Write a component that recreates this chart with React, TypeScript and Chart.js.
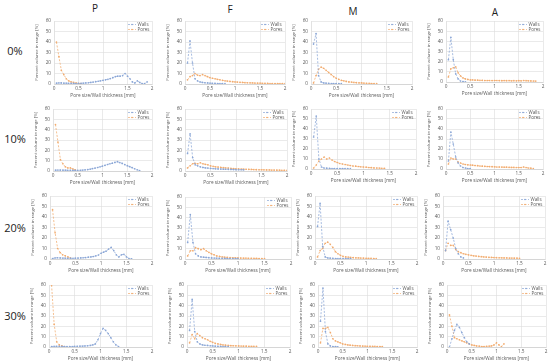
import React, { useEffect, useRef } from "react";
import { Chart, registerables } from "chart.js";
Chart.register(...registerables);

const X = [0.05, 0.1, 0.15, 0.2, 0.25, 0.3, 0.35, 0.4, 0.45, 0.5, 0.55, 0.6, 0.65, 0.7, 0.75, 0.8, 0.85, 0.9, 0.95, 1.0, 1.05, 1.1, 1.15, 1.2, 1.25, 1.3, 1.35, 1.4, 1.45, 1.5, 1.55, 1.6, 1.65, 1.7, 1.75, 1.8, 1.85, 1.9, 1.95, 2.0];

const COLS = ["P", "F", "M", "A"];
const ROWS = ["0%", "10%", "20%", "30%"];
const SERIES = ["Walls", "Pores"];
const X_TITLE = "Pore size/Wall thickness [mm]";
const Y_TITLE = "Percent volume in range [%]";

// Row 0%
const P0_WALLS = [0.8, 1, 1, 0.8, 0.8, 0.7, 0.6, 0.6, 0.5, 0.6, 0.7, 0.8, 1, 1.2, 1.5, 1.8, 2.2, 2.6, 3, 3.5, 4, 4.5, 5.2, 6, 7, 7.5, 7.5, 8, 10, 7.5, 5, 2, 1, 3, 1.5, 0.3, 0.5, 2];
const P0_PORES = [40, 26, 13, 9, 5, 3, 2, 1.5, 1, 0.5, 0.3];
const F0_WALLS = [20, 41, 20, 5, 3, 2, 1.5, 1.2, 1, 0.8, 0.7, 0.6, 0.5, 0.5, 0.4, 0.3];
const F0_PORES = [4, 7, 8, 10, 8.5, 8, 9, 8, 7, 6, 5.5, 5, 4.5, 4, 3.5, 3, 2.8, 2.5, 2.2, 2, 1.8, 1.6, 1.5, 1.3, 1.2, 1.1, 1, 0.9, 0.8, 0.8, 0.7, 0.6, 0.6, 0.5, 0.5, 0.4, 0.4, 0.4, 0.3, 0.3];
const M0_WALLS = [38, 48, 8, 2, 1, 0.8, 0.6, 0.5, 0.5, 0.4, 0.3, 0.3];
const M0_PORES = [1, 8, 14, 16, 15, 13, 11, 9, 7, 5.5, 4.5, 3.5, 3, 2.5, 2, 1.8, 1.5, 1.3, 1.1, 1, 0.8, 0.7, 0.6, 0.5, 0.5, 0.4];
const A0_WALLS = [22, 44, 22, 8, 3, 1, 0.5, 0.2];
const A0_PORES = [5, 13, 14, 15, 9, 6, 4, 3, 2.5, 2, 2, 1.8, 1.8, 1.6, 1.6, 1.5, 1.5, 1.5, 1.4, 1.5, 1.5, 1.4, 1.3, 1.4, 1.3, 1.4, 1.2, 1.3, 1.2, 1.3, 1.2, 1.5, 1.3, 1.2, 1.1, 1, 0.9];

// Row 10%
const P10_WALLS = [0.8, 0.9, 0.9, 0.8, 0.8, 0.7, 0.7, 0.6, 0.6, 0.6, 0.7, 0.9, 1.1, 1.4, 1.8, 2.3, 2.8, 3.4, 4, 4.8, 5.5, 6.3, 7, 7.6, 8.3, 9, 8.2, 7.3, 6.2, 5.2, 4.2, 3.2, 2.2, 1.2, 0.4];
const P10_PORES = [45, 28, 11, 7, 4, 3, 3, 2, 1];
const F10_WALLS = [17, 36, 13, 6, 5, 4, 3.5, 3, 2.8, 2.5, 2.3, 2.1, 2, 1.9, 1.8, 1.7, 1.6, 1.5, 1.4, 1.3, 1.2, 1.2, 1.1];
const F10_PORES = [3, 5, 7, 7.5, 7, 8, 7, 6.5, 6, 5, 4.5, 4, 3.8, 3.5, 3.2, 3, 2.8, 2.5, 2.3, 2.1, 2, 1.9, 1.8, 1.7, 1.6, 1.5, 1.4, 1.3, 1.2, 1.2, 1.1, 1, 1, 0.9, 0.9, 0.8, 0.8, 0.7, 0.7, 0.6];
const M10_WALLS = [32, 53, 10, 2, 1, 0.8, 0.6, 0.5, 0.5, 0.4, 0.4, 0.3, 0.3, 0.3, 0.3];
const M10_PORES = [1, 4, 8, 10, 12, 10, 11, 9, 7.5, 6.5, 5.5, 5, 4.5, 4, 3.5, 3, 2.8, 2.5, 2.2, 2, 1.8, 1.5, 1.3, 1.1, 1, 0.9, 0.7, 0.6];
const A10_WALLS = [8, 37, 25, 12, 6, 3, 1.5, 1, 0.5, 0.3];
const A10_PORES = [5, 11, 10, 10, 7, 6, 5, 4.5, 4.2, 4, 3.8, 3.5, 3.3, 3, 2.8, 2.7, 2.5, 2.4, 2.3, 2.2, 2, 2, 1.9, 1.8, 1.8, 1.7, 1.6, 1.6, 1.5, 1.5, 1.5, 2, 1.5, 1, 0.8, 0.5];

// Row 20%
const P20_WALLS = [0.5, 1, 1.2, 1, 0.9, 0.8, 0.7, 0.7, 0.7, 0.8, 0.9, 1, 1.2, 1.4, 1.7, 2, 2.4, 3, 3.8, 5.5, 6.5, 7.5, 9.5, 11, 8, 4, 2, 4, 4.5, 2, 0.5, 0.2];
const P20_PORES = [47, 25, 10, 6, 4, 3, 2, 1];
const F20_WALLS = [16, 43, 16, 5, 3, 2, 1.8, 1.5, 1.3, 1, 0.9, 0.8, 0.7, 0.6, 0.6, 0.5, 0.5, 0.4, 0.4, 0.3];
const F20_PORES = [3, 8, 8, 11, 10, 9, 10, 8, 6.5, 5, 4, 3, 2.5, 2, 1.8, 1.5, 1.3, 1.2, 1.1, 1, 0.9, 0.8, 0.8, 0.7, 0.7, 0.6, 0.6, 0.5, 0.5, 0.5];
const M20_WALLS = [31, 53, 12, 2, 1, 0.8, 0.6, 0.5, 0.4, 0.4, 0.3, 0.3, 0.3, 0.3];
const M20_PORES = [2, 8, 10, 15, 16, 14, 11, 7, 5, 3.5, 2.5, 2, 1.8, 1.5, 1.3, 1.1, 1, 0.9, 0.8, 0.7, 0.6, 0.6, 0.5, 0.5];
const A20_WALLS = [8, 36, 28, 20, 10, 5, 2, 1];
const A20_PORES = [8, 15, 13, 13, 9, 7, 6, 5, 4.5, 4, 3.5, 3, 2.8, 2.5, 2.2, 2, 1.8, 1.6, 1.5, 1.4, 1.3, 1.2, 1.1, 1, 1, 0.9, 0.9, 0.8, 0.8, 0.7];

// Row 30%
const P30_WALLS = [0.5, 0.6, 0.7, 0.6, 0.6, 0.5, 0.5, 0.5, 0.5, 0.6, 0.7, 0.8, 0.9, 1, 1.2, 1.5, 2, 3, 7, 13, 18, 16, 13, 9, 5, 2, 0.5];
const P30_PORES = [60, 22, 5, 2, 1, 0.5];
const F30_WALLS = [16, 46, 15, 5, 3, 2, 1.7, 1.5, 1.2, 1, 0.8, 0.7, 0.6, 0.5, 0.4, 0.3];
const F30_PORES = [4, 12, 8, 13, 11, 9, 8, 7, 5.5, 4.5, 3.5, 3, 2.5, 2, 1.8, 1.5, 1.3, 1.2, 1.1, 1, 0.9, 0.8, 0.8, 0.7, 0.7, 0.6, 0.6];
const M30_WALLS = [25, 57, 15, 3, 1, 0.5, 0.3, 0.2];
const M30_PORES = [4, 18, 18, 19, 14, 8, 6, 5, 4, 3, 2.5, 2, 1.8, 1.5, 1.3, 1.2, 1, 0.9, 0.8, 0.7, 0.7, 0.6, 0.6, 0.5, 0.5, 0.5];
const A30_WALLS = [0, 8, 16, 22, 19, 14, 9, 5, 3];
const A30_PORES = [31, 20, 9, 8, 7, 6, 5, 4, 3, 2, 1.5, 1, 0.8, 0.5, 0.5, 0.6, 0.8, 1, 2, 4, 2, 0.5, 3];

const PANEL_DATA = [
  [[P0_WALLS, P0_PORES], [F0_WALLS, F0_PORES], [M0_WALLS, M0_PORES], [A0_WALLS, A0_PORES]],
  [[P10_WALLS, P10_PORES], [F10_WALLS, F10_PORES], [M10_WALLS, M10_PORES], [A10_WALLS, A10_PORES]],
  [[P20_WALLS, P20_PORES], [F20_WALLS, F20_PORES], [M20_WALLS, M20_PORES], [A20_WALLS, A20_PORES]],
  [[P30_WALLS, P30_PORES], [F30_WALLS, F30_PORES], [M30_WALLS, M30_PORES], [A30_WALLS, A30_PORES]],
];

// layout: plot area boxes [left, right, top, bottom]
const BOXES = [
  [[54, 152, 21, 84], [185, 285, 21, 84], [311, 412, 21, 84], [446, 543, 21, 82]],
  [[53, 152, 109, 171], [185, 287, 109, 171], [311, 416, 109, 169], [446, 543, 109, 169]],
  [[50, 152, 196, 259], [185, 291, 197, 259], [315, 417, 196, 259], [443, 545, 196, 259]],
  [[49, 152, 285, 347], [187, 290, 285, 347], [318, 417, 285, 347], [447, 546, 285, 347]],
];

const COLORS = ["#8aa6d6", "#f2ab6e"];
const FONT = "'Open Sans', sans-serif";
const TXT = "#595959";
const YW = 22;
const XH = 18;
const PADR = 8;
const PADT = 6;

const legendPlugin = {
  id: "cornerLegend",
  afterDraw(chart: any) {
    const { ctx, chartArea } = chart;
    ctx.save();
    chart.data.datasets.forEach((ds: any, i: number) => {
      const y = chartArea.top + 3.5 + i * 5;
      const x0 = chartArea.right - 24;
      const x1 = chartArea.right - 16;
      ctx.strokeStyle = ds.borderColor;
      ctx.lineWidth = 0.7;
      ctx.setLineDash([2, 1.5]);
      ctx.beginPath();
      ctx.moveTo(x0, y);
      ctx.lineTo(x1, y);
      ctx.stroke();
      ctx.setLineDash([]);
      ctx.fillStyle = ds.borderColor;
      ctx.beginPath();
      ctx.arc((x0 + x1) / 2, y, 0.8, 0, Math.PI * 2);
      ctx.fill();
      ctx.fillStyle = TXT;
      ctx.font = `4.5px ${FONT}`;
      ctx.textBaseline = "middle";
      ctx.textAlign = "left";
      ctx.fillText(ds.label, x1 + 1.5, y);
    });
    ctx.restore();
  },
};

function Panel({ row, col }: { row: number; col: number }) {
  const ref = useRef<HTMLCanvasElement>(null);
  const [l, r, t, b] = BOXES[row][col];
  const w = YW + (r - l) + PADR;
  const h = PADT + (b - t) + XH;
  useEffect(() => {
    const series = PANEL_DATA[row][col];
    const chart = new Chart(ref.current!, {
      type: "line",
      data: {
        datasets: series.map((arr, i) => ({
          label: SERIES[i],
          data: arr.map((v, j) => ({ x: X[j], y: v })),
          borderColor: COLORS[i],
          backgroundColor: COLORS[i],
          borderWidth: 0.75,
          borderDash: [2, 1.5],
          pointRadius: 0.85,
          pointBorderWidth: 0,
          tension: 0,
          fill: false,
        })),
      },
      options: {
        responsive: false,
        animation: false,
        devicePixelRatio: 1,
        layout: { padding: { left: 0, right: PADR, top: PADT, bottom: 0 } },
        plugins: { legend: { display: false }, tooltip: { enabled: false } },
        scales: {
          x: {
            type: "linear",
            min: 0,
            max: 2,
            ticks: {
              stepSize: 0.5,
              font: { size: 4.7, family: FONT },
              color: TXT,
              padding: 2,
              maxRotation: 0,
              autoSkip: false,
              callback: (v: any) => String(Number(v)),
            },
            grid: { color: "#dcdcdc", lineWidth: 0.6, drawTicks: false },
            border: { color: "#c8c8c8", width: 0.6 },
            title: { display: true, text: X_TITLE, font: { size: 4.7, family: FONT }, color: TXT, padding: { top: 0, bottom: 3.2 } },
            afterFit: (s: any) => { s.height = XH; },
          },
          y: {
            type: "linear",
            min: 0,
            max: 60,
            ticks: { stepSize: 10, font: { size: 4.7, family: FONT }, color: TXT, padding: 3, callback: (v: any) => String(Number(v)) },
            grid: { color: "#dcdcdc", lineWidth: 0.6, drawTicks: false },
            border: { color: "#dcdcdc", width: 0.6 },
            title: { display: true, text: Y_TITLE, font: { size: 4.3, family: FONT }, color: TXT, padding: { top: 2.3, bottom: 0 } },
            afterFit: (s: any) => { s.width = YW; },
          },
        },
      },
      plugins: [legendPlugin],
    } as any);
    return () => chart.destroy();
  }, [row, col]);
  return (
    <canvas
      ref={ref}
      width={w}
      height={h}
      style={{ position: "absolute", left: l - YW, top: t - PADT, width: w, height: h }}
    />
  );
}

const COL_TITLE_POS = [[95, 8], [230, 9], [353, 11], [495, 12]];
const ROW_LABEL_POS = [[15, 50], [15, 138], [15, 227], [15, 315]];

export default function App() {
  return (
    <div style={{ position: "absolute", left: 0, top: 0, width: 550, height: 364, background: "#fff", overflow: "hidden", fontFamily: FONT }}>
      {COLS.map((c, i) => (
        <div key={c} style={{ position: "absolute", left: COL_TITLE_POS[i][0], top: COL_TITLE_POS[i][1], transform: "translate(-50%,-50%)", fontSize: 10, color: "#222", lineHeight: 1 }}>{c}</div>
      ))}
      {ROWS.map((rr, i) => (
        <div key={rr} style={{ position: "absolute", left: ROW_LABEL_POS[i][0], top: ROW_LABEL_POS[i][1], transform: "translate(-50%,-50%)", fontSize: 11, color: "#222", lineHeight: 1 }}>{rr}</div>
      ))}
      {ROWS.map((_, ri) => COLS.map((__, ci) => <Panel key={`${ri}-${ci}`} row={ri} col={ci} />))}
    </div>
  );
}
